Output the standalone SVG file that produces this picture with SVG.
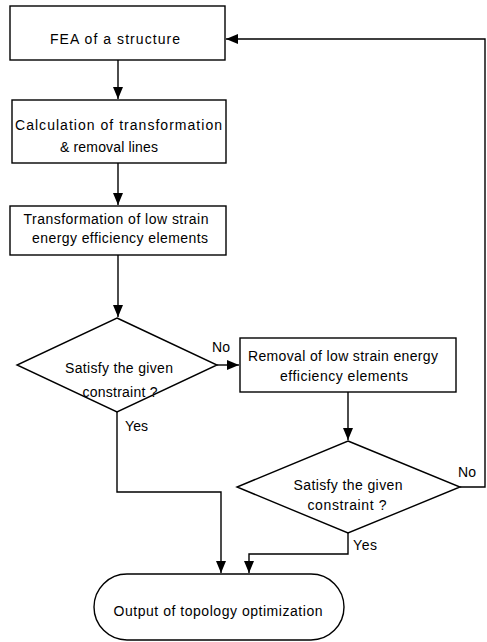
<svg xmlns="http://www.w3.org/2000/svg" width="487" height="642" viewBox="0 0 487 642">
<style>
.n{fill:#fff;stroke:#000;stroke-width:1.4}
.c{fill:none;stroke:#000;stroke-width:1.4}
text{font-family:"Liberation Sans",Arial,sans-serif;font-size:14px;fill:#000;text-anchor:middle;dominant-baseline:central}
.l{text-anchor:start}
</style>
<defs>
<marker id="ah" markerWidth="12" markerHeight="10" refX="12" refY="5" orient="auto" markerUnits="userSpaceOnUse">
<path d="M0,0 L12,5 L0,10 Z" fill="#000"/>
</marker>
</defs>
<rect width="487" height="642" fill="#fff"/>
<g id="connectors">
<path class="c" d="M118,60 V99" marker-end="url(#ah)"/>
<path class="c" d="M118,163 V205" marker-end="url(#ah)"/>
<path class="c" d="M118,255 V317" marker-end="url(#ah)"/>
<path class="c" d="M217,365 H239" marker-end="url(#ah)"/>
<path class="c" d="M348,392 V440" marker-end="url(#ah)"/>
<path class="c" d="M460,487 H485 V39 H226" marker-end="url(#ah)"/>
<path class="c" d="M117,412 V492 H221 V573" marker-end="url(#ah)"/>
<path class="c" d="M348,533 V554 H249 V573" marker-end="url(#ah)"/>
<text x="221" y="347" textLength="18" lengthAdjust="spacing">No</text>
<text class="l" x="125" y="426" textLength="23" lengthAdjust="spacing">Yes</text>
<text x="467" y="472" textLength="18" lengthAdjust="spacing">No</text>
<text class="l" x="353" y="545" textLength="24" lengthAdjust="spacing">Yes</text>
</g>
<g id="fea">
<rect class="n" x="10" y="6" width="215" height="54"/>
<text x="115" y="39" textLength="130" lengthAdjust="spacing">FEA of a structure</text>
</g>
<g id="calc">
<rect class="n" x="12" y="100" width="214" height="63"/>
<text x="118.5" y="125" textLength="207" lengthAdjust="spacing">Calculation of transformation</text>
<text x="109" y="147" textLength="98" lengthAdjust="spacing">&amp; removal lines</text>
</g>
<g id="transform">
<rect class="n" x="10" y="206" width="216" height="49"/>
<text x="116" y="219" textLength="185" lengthAdjust="spacing">Transformation of low strain</text>
<text x="120" y="238" textLength="176" lengthAdjust="spacing">energy efficiency elements</text>
</g>
<g id="decision1">
<polygon class="n" points="117,318 217,365 117,412 17,365"/>
<text x="119" y="368" textLength="108" lengthAdjust="spacing">Satisfy the given</text>
<text x="120" y="392" textLength="75" lengthAdjust="spacing">constraint ?</text>
</g>
<g id="removal">
<rect class="n" x="240" y="338" width="216" height="54"/>
<text x="343" y="356" textLength="190" lengthAdjust="spacing">Removal of low strain energy</text>
<text x="344" y="376" textLength="128" lengthAdjust="spacing">efficiency elements</text>
</g>
<g id="decision2">
<polygon class="n" points="348,441 460,487 348,533 237,487"/>
<text x="348" y="485" textLength="109" lengthAdjust="spacing">Satisfy the given</text>
<text x="347" y="505" textLength="79" lengthAdjust="spacing">constraint ?</text>
</g>
<g id="output">
<rect class="n" x="94" y="574" width="250" height="66" rx="33" ry="33"/>
<text x="218" y="611" textLength="209" lengthAdjust="spacing">Output of topology optimization</text>
</g>
</svg>
